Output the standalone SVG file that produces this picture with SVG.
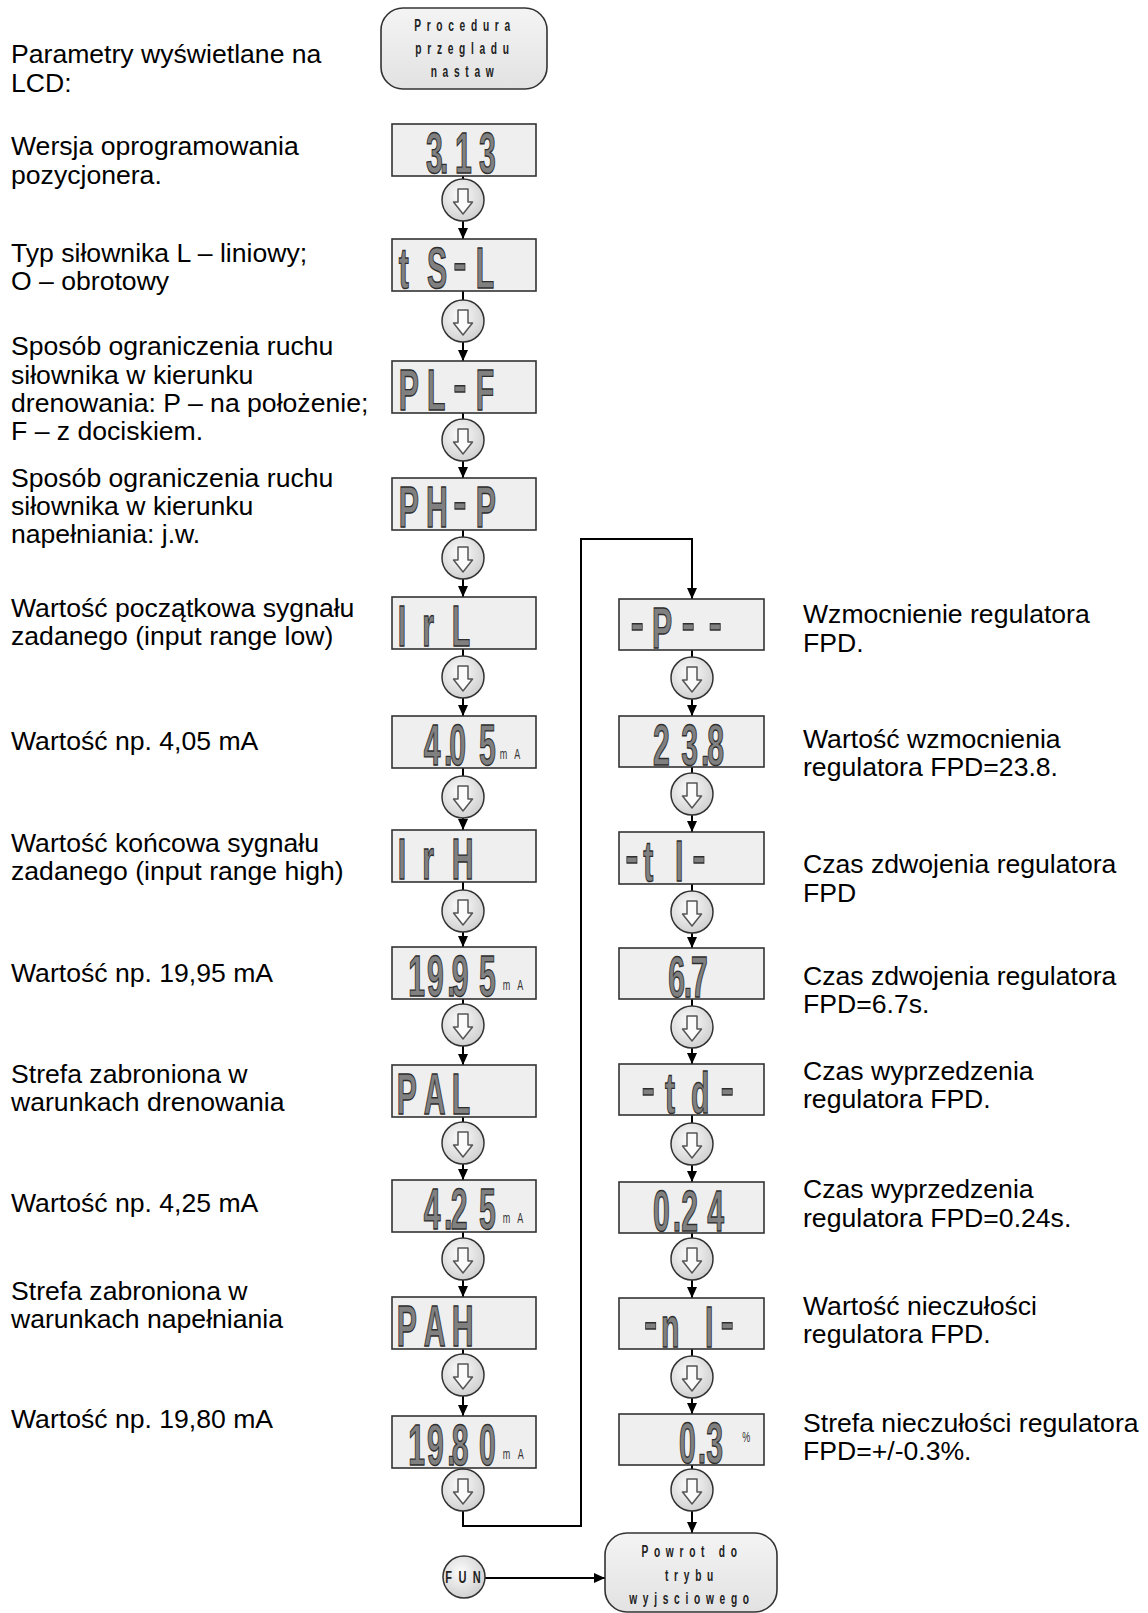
<svg xmlns="http://www.w3.org/2000/svg" width="1148" height="1613" viewBox="0 0 1148 1613">
<style>
.lbl{font-family:"Liberation Sans",Arial,sans-serif;font-size:26.6px;fill:#000}
.lcd{fill:#efefef;stroke:#333;stroke-width:1.6}
.seg{font-family:"Liberation Sans",Arial,sans-serif;font-size:58px;font-weight:bold;fill:#808080;stroke:#2e2e2e;stroke-width:1.4}
.hy{font-size:80px;font-weight:normal}
.unit{font-family:"Liberation Sans",Arial,sans-serif;font-size:15px;fill:#333}
.btn{fill:url(#bg);stroke:#333;stroke-width:1.5}
.harr{fill:#fbfbfb;stroke:#555;stroke-width:1.5;stroke-linejoin:round}
.term{fill:url(#tg);stroke:#333;stroke-width:1.6}
.tt{font-family:"Liberation Sans",Arial,sans-serif;font-size:17px;font-weight:bold;fill:#222}
.con{fill:none;stroke:#000;stroke-width:2}
</style>
<defs>
<radialGradient id="bg" cx="0.42" cy="0.38" r="0.65">
<stop offset="0" stop-color="#fcfcfc"/>
<stop offset="1" stop-color="#cfcfcf"/>
</radialGradient>
<linearGradient id="tg" x1="0" y1="0" x2="0" y2="1">
<stop offset="0" stop-color="#f4f4f4"/>
<stop offset="1" stop-color="#e2e2e2"/>
</linearGradient>
<marker id="ah" markerWidth="11" markerHeight="10" refX="11" refY="5" orient="auto" markerUnits="userSpaceOnUse">
<path d="M0,0 L11,5 L0,10 z" fill="#000"/>
</marker>
<path id="dn" class="harr" d="M-5,-11 H5 V2 H9.5 L0,14 L-9.5,2 H-5 Z"/>
</defs>

<g id="labels-left">
<text class="lbl" x="11" y="63">Parametry wyświetlane na<tspan x="11" y="92">LCD:</tspan></text>
<text class="lbl" x="11" y="155">Wersja oprogramowania<tspan x="11" y="184">pozycjonera.</tspan></text>
<text class="lbl" x="11" y="262">Typ siłownika L – liniowy;<tspan x="11" y="290">O – obrotowy</tspan></text>
<text class="lbl" x="11" y="355">Sposób ograniczenia ruchu<tspan x="11" y="384">siłownika w kierunku</tspan><tspan x="11" y="412">drenowania: P – na położenie;</tspan><tspan x="11" y="440">F – z dociskiem.</tspan></text>
<text class="lbl" x="11" y="487">Sposób ograniczenia ruchu<tspan x="11" y="515">siłownika w kierunku</tspan><tspan x="11" y="543">napełniania: j.w.</tspan></text>
<text class="lbl" x="11" y="617">Wartość początkowa sygnału<tspan x="11" y="645">zadanego (input range low)</tspan></text>
<text class="lbl" x="11" y="750">Wartość np. 4,05 mA</text>
<text class="lbl" x="11" y="852">Wartość końcowa sygnału<tspan x="11" y="880">zadanego (input range high)</tspan></text>
<text class="lbl" x="11" y="982">Wartość np. 19,95 mA</text>
<text class="lbl" x="11" y="1083">Strefa zabroniona w<tspan x="11" y="1111">warunkach drenowania</tspan></text>
<text class="lbl" x="11" y="1212">Wartość np. 4,25 mA</text>
<text class="lbl" x="11" y="1300">Strefa zabroniona w<tspan x="11" y="1328">warunkach napełniania</tspan></text>
<text class="lbl" x="11" y="1428">Wartość np. 19,80 mA</text>
</g>

<g id="labels-right">
<text class="lbl" x="803" y="623">Wzmocnienie regulatora<tspan x="803" y="652">FPD.</tspan></text>
<text class="lbl" x="803" y="748">Wartość wzmocnienia<tspan x="803" y="776">regulatora FPD=23.8.</tspan></text>
<text class="lbl" x="803" y="873">Czas zdwojenia regulatora<tspan x="803" y="902">FPD</tspan></text>
<text class="lbl" x="803" y="985">Czas zdwojenia regulatora<tspan x="803" y="1013">FPD=6.7s.</tspan></text>
<text class="lbl" x="803" y="1080">Czas wyprzedzenia<tspan x="803" y="1108">regulatora FPD.</tspan></text>
<text class="lbl" x="803" y="1198">Czas wyprzedzenia<tspan x="803" y="1227">regulatora FPD=0.24s.</tspan></text>
<text class="lbl" x="803" y="1315">Wartość nieczułości<tspan x="803" y="1343">regulatora FPD.</tspan></text>
<text class="lbl" x="803" y="1432">Strefa nieczułości regulatora<tspan x="803" y="1460">FPD=+/-0.3%.</tspan></text>
</g>

<g id="connectors">
<path class="con" d="M463,176 V179"/><path class="con" d="M463,221 V239" marker-end="url(#ah)"/>
<path class="con" d="M463,291 V300"/><path class="con" d="M463,342 V361" marker-end="url(#ah)"/>
<path class="con" d="M463,413 V419"/><path class="con" d="M463,461 V478" marker-end="url(#ah)"/>
<path class="con" d="M463,530 V537"/><path class="con" d="M463,579 V597" marker-end="url(#ah)"/>
<path class="con" d="M463,649 V656"/><path class="con" d="M463,698 V716" marker-end="url(#ah)"/>
<path class="con" d="M463,768 V776"/><path class="con" d="M463,818 V830" marker-end="url(#ah)"/>
<path class="con" d="M463,882 V890"/><path class="con" d="M463,932 V947" marker-end="url(#ah)"/>
<path class="con" d="M463,999 V1004"/><path class="con" d="M463,1046 V1065" marker-end="url(#ah)"/>
<path class="con" d="M463,1117 V1122"/><path class="con" d="M463,1164 V1180" marker-end="url(#ah)"/>
<path class="con" d="M463,1232 V1238"/><path class="con" d="M463,1280 V1297" marker-end="url(#ah)"/>
<path class="con" d="M463,1349 V1354"/><path class="con" d="M463,1396 V1416" marker-end="url(#ah)"/>
<path class="con" d="M463,1468 V1469"/>
<path class="con" d="M463,1511 V1526 H581 V539 H692 V599" marker-end="url(#ah)"/>
<path class="con" d="M692,650 V657"/><path class="con" d="M692,699 V716" marker-end="url(#ah)"/>
<path class="con" d="M692,767 V773"/><path class="con" d="M692,815 V832" marker-end="url(#ah)"/>
<path class="con" d="M692,884 V891"/><path class="con" d="M692,933 V948" marker-end="url(#ah)"/>
<path class="con" d="M692,999 V1006"/><path class="con" d="M692,1048 V1064" marker-end="url(#ah)"/>
<path class="con" d="M692,1115 V1123"/><path class="con" d="M692,1165 V1182" marker-end="url(#ah)"/>
<path class="con" d="M692,1233 V1238"/><path class="con" d="M692,1280 V1298" marker-end="url(#ah)"/>
<path class="con" d="M692,1349 V1356"/><path class="con" d="M692,1398 V1414" marker-end="url(#ah)"/>
<path class="con" d="M692,1465 V1469"/><path class="con" d="M692,1511 V1533" marker-end="url(#ah)"/>
<path class="con" d="M485,1578 H605" marker-end="url(#ah)"/>
</g>

<g id="start">
<rect class="term" x="381" y="8" width="166" height="81" rx="22"/>
<g transform="translate(462,0) scale(0.6,1)">
<text class="tt" text-anchor="middle" letter-spacing="9.5" x="5" y="31">Procedura</text>
<text class="tt" text-anchor="middle" letter-spacing="9.5" x="5" y="54">przegladu</text>
<text class="tt" text-anchor="middle" letter-spacing="9.5" x="5" y="77">nastaw</text>
</g>
</g>

<g id="lcd-313"><rect class="lcd" x="392" y="124" width="144" height="52"/><text class="seg" transform="translate(0,173) scale(0.52,1)" x="819 846 875 921" y="0">3.13</text></g>
<g id="btn1"><circle class="btn" cx="463" cy="200" r="21"/><use href="#dn" x="463" y="200"/></g>
<g id="lcd-ts-l"><rect class="lcd" x="392" y="239" width="144" height="52"/><text class="seg" transform="translate(0,288) scale(0.52,1)" x="767 821 871 915" y="0">tS<tspan class="hy">-</tspan>L</text></g>
<g id="btn2"><circle class="btn" cx="463" cy="321" r="21"/><use href="#dn" x="463" y="321"/></g>
<g id="lcd-pl-f"><rect class="lcd" x="392" y="361" width="144" height="52"/><text class="seg" transform="translate(0,410) scale(0.52,1)" x="767 821 871 915" y="0">PL<tspan class="hy">-</tspan>F</text></g>
<g id="btn3"><circle class="btn" cx="463" cy="440" r="21"/><use href="#dn" x="463" y="440"/></g>
<g id="lcd-ph-p"><rect class="lcd" x="392" y="478" width="144" height="52"/><text class="seg" transform="translate(0,527) scale(0.52,1)" x="767 819 871 915" y="0">PH<tspan class="hy">-</tspan>P</text></g>
<g id="btn4"><circle class="btn" cx="463" cy="558" r="21"/><use href="#dn" x="463" y="558"/></g>
<g id="lcd-irl"><rect class="lcd" x="392" y="597" width="144" height="52"/><text class="seg" transform="translate(0,646) scale(0.52,1)" x="765 812 869" y="0">IrL</text></g>
<g id="btn5"><circle class="btn" cx="463" cy="677" r="21"/><use href="#dn" x="463" y="677"/></g>
<g id="lcd-405"><rect class="lcd" x="392" y="716" width="144" height="52"/><text class="seg" transform="translate(0,765) scale(0.52,1)" x="815 854 864 921" y="0">4.05</text><text class="unit" transform="translate(0,759) scale(0.6,1)" x="833 857" y="0">mA</text></g>
<g id="btn6"><circle class="btn" cx="463" cy="797" r="21"/><use href="#dn" x="463" y="797"/></g>
<g id="lcd-irh"><rect class="lcd" x="392" y="830" width="144" height="52"/><text class="seg" transform="translate(0,879) scale(0.52,1)" x="765 812 869" y="0">IrH</text></g>
<g id="btn7"><circle class="btn" cx="463" cy="911" r="21"/><use href="#dn" x="463" y="911"/></g>
<g id="lcd-1995"><rect class="lcd" x="392" y="947" width="144" height="52"/><text class="seg" transform="translate(0,996) scale(0.52,1)" x="785 821 860 869 921" y="0">19.95</text><text class="unit" transform="translate(0,990) scale(0.6,1)" x="838 862" y="0">mA</text></g>
<g id="btn8"><circle class="btn" cx="463" cy="1025" r="21"/><use href="#dn" x="463" y="1025"/></g>
<g id="lcd-pal"><rect class="lcd" x="392" y="1065" width="144" height="52"/><text class="seg" transform="translate(0,1114) scale(0.52,1)" x="763 815 869" y="0">PAL</text></g>
<g id="btn9"><circle class="btn" cx="463" cy="1143" r="21"/><use href="#dn" x="463" y="1143"/></g>
<g id="lcd-425"><rect class="lcd" x="392" y="1180" width="144" height="52"/><text class="seg" transform="translate(0,1229) scale(0.52,1)" x="815 854 867 921" y="0">4.25</text><text class="unit" transform="translate(0,1223) scale(0.6,1)" x="838 862" y="0">mA</text></g>
<g id="btn10"><circle class="btn" cx="463" cy="1259" r="21"/><use href="#dn" x="463" y="1259"/></g>
<g id="lcd-pah"><rect class="lcd" x="392" y="1297" width="144" height="52"/><text class="seg" transform="translate(0,1346) scale(0.52,1)" x="763 815 869" y="0">PAH</text></g>
<g id="btn11"><circle class="btn" cx="463" cy="1375" r="21"/><use href="#dn" x="463" y="1375"/></g>
<g id="lcd-1980"><rect class="lcd" x="392" y="1416" width="144" height="52"/><text class="seg" transform="translate(0,1465) scale(0.52,1)" x="785 821 860 869 921" y="0">19.80</text><text class="unit" transform="translate(0,1459) scale(0.6,1)" x="838 863" y="0">mA</text></g>
<g id="btn12"><circle class="btn" cx="463" cy="1490" r="21"/><use href="#dn" x="463" y="1490"/></g>

<g id="lcd-p"><rect class="lcd" x="619" y="599" width="145" height="51"/><text class="seg" transform="translate(0,648) scale(0.52,1)" x="1212 1254 1310 1362" y="0"><tspan class="hy">-</tspan>P<tspan class="hy">--</tspan></text></g>
<g id="btn13"><circle class="btn" cx="692" cy="678" r="21"/><use href="#dn" x="692" y="678"/></g>
<g id="lcd-238"><rect class="lcd" x="619" y="716" width="145" height="51"/><text class="seg" transform="translate(0,765) scale(0.52,1)" x="1256 1310 1348 1360" y="0">23.8</text></g>
<g id="btn14"><circle class="btn" cx="692" cy="794" r="21"/><use href="#dn" x="692" y="794"/></g>
<g id="lcd-ti"><rect class="lcd" x="619" y="832" width="145" height="52"/><text class="seg" transform="translate(0,881) scale(0.52,1)" x="1202 1237 1298 1331" y="0"><tspan class="hy">-</tspan>tI<tspan class="hy">-</tspan></text></g>
<g id="btn15"><circle class="btn" cx="692" cy="912" r="21"/><use href="#dn" x="692" y="912"/></g>
<g id="lcd-67"><rect class="lcd" x="619" y="948" width="145" height="51"/><text class="seg" transform="translate(0,997) scale(0.52,1)" x="1285 1315 1329" y="0">6.7</text></g>
<g id="btn16"><circle class="btn" cx="692" cy="1027" r="21"/><use href="#dn" x="692" y="1027"/></g>
<g id="lcd-td"><rect class="lcd" x="619" y="1064" width="145" height="51"/><text class="seg" transform="translate(0,1113) scale(0.52,1)" x="1233 1279 1329 1385" y="0"><tspan class="hy">-</tspan>td<tspan class="hy">-</tspan></text></g>
<g id="btn17"><circle class="btn" cx="692" cy="1144" r="21"/><use href="#dn" x="692" y="1144"/></g>
<g id="lcd-024"><rect class="lcd" x="619" y="1182" width="145" height="51"/><text class="seg" transform="translate(0,1231) scale(0.52,1)" x="1256 1294 1310 1360" y="0">0.24</text></g>
<g id="btn18"><circle class="btn" cx="692" cy="1259" r="21"/><use href="#dn" x="692" y="1259"/></g>
<g id="lcd-ni"><rect class="lcd" x="619" y="1298" width="145" height="51"/><text class="seg" transform="translate(0,1347) scale(0.52,1)" x="1238 1271 1356 1385" y="0"><tspan class="hy">-</tspan>nI<tspan class="hy">-</tspan></text></g>
<g id="btn19"><circle class="btn" cx="692" cy="1377" r="21"/><use href="#dn" x="692" y="1377"/></g>
<g id="lcd-03"><rect class="lcd" x="619" y="1414" width="145" height="51"/><text class="seg" transform="translate(0,1463) scale(0.52,1)" x="1306 1342 1358" y="0">0.3</text><text class="unit" transform="translate(0,1442) scale(0.6,1)" x="1237" y="0" font-size="13">%</text></g>
<g id="btn20"><circle class="btn" cx="692" cy="1490" r="21"/><use href="#dn" x="692" y="1490"/></g>

<g id="fun"><circle class="btn" cx="464" cy="1577" r="21"/><g transform="translate(463,0) scale(0.65,1)"><text class="tt" font-weight="normal" font-size="14" text-anchor="middle" letter-spacing="10" x="5" y="1583">FUN</text></g></g>

<g id="end">
<rect class="term" x="605" y="1533" width="172" height="79" rx="22"/>
<g transform="translate(689,0) scale(0.6,1)">
<text class="tt" text-anchor="middle" letter-spacing="9.5" x="5" y="1557">Powrot do</text>
<text class="tt" text-anchor="middle" letter-spacing="9.5" x="5" y="1581">trybu</text>
<text class="tt" text-anchor="middle" letter-spacing="9.5" x="5" y="1604">wyjsciowego</text>
</g>
</g>
</svg>
